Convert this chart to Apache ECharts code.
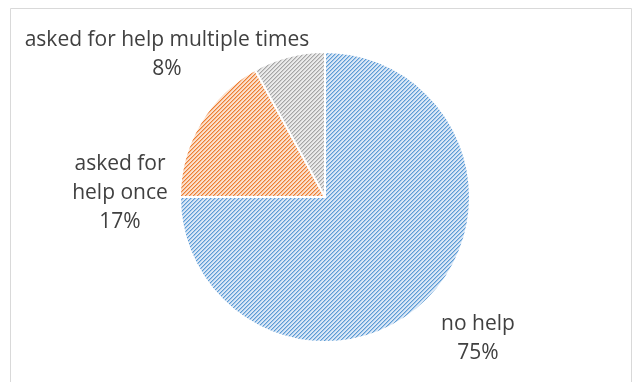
<!DOCTYPE html>
<html>
<head>
<meta charset="utf-8">
<script src="https://cdn.jsdelivr.net/npm/echarts@6/dist/echarts.min.js"></script>
<style>
  html, body { margin: 0; padding: 0; background: #fff; }
  #chart { width: 642px; height: 382px; }
</style>
</head>
<body>
<div id="chart"></div>
<script>
// Share of respondents by how often they asked for help
const categories = ['no help', 'asked for\nhelp once', 'asked for help multiple times'];
const shares = [75, 17, 8];
const baseColors = ['#5b9bd5', '#ed7d31', '#a5a5a5'];
const lightColors = ['#dae7f6', '#fbe0cc', '#ebebeb'];

// Diagonal hatch fill: "/" stripes on a pale tint of the series colour
function hatch(dark, light) {
  const size = 8;
  const c = document.createElement('canvas');
  c.width = size; c.height = size;
  const ctx = c.getContext('2d');
  for (let y = 0; y < size; y++) {
    for (let x = 0; x < size; x++) {
      const k = (x + y) % 4;
      ctx.fillStyle = k <= 1 ? dark : light;
      ctx.globalAlpha = k === 1 ? 0.55 : 1;
      ctx.fillRect(x, y, 1, 1);
      ctx.globalAlpha = 1;
    }
  }
  return { image: c, repeat: 'repeat' };
}

// Centre points of the category labels
const labelSpots = [[478, 339], [120, 193], [167, 55]];

const chart = echarts.init(document.getElementById('chart'), null, { renderer: 'canvas' });
chart.setOption({
  animation: false,
  graphic: [{
    type: 'rect',
    shape: { x: 10.5, y: 8.5, width: 621, height: 400 },
    style: { fill: 'none', stroke: '#d9d9d9', lineWidth: 1 },
    silent: true
  }],
  series: [{
    type: 'pie',
    center: [325, 197],
    radius: 145,
    startAngle: 90,
    clockwise: true,
    data: categories.map((name, i) => ({
      name: name,
      value: shares[i],
      itemStyle: { color: hatch(baseColors[i], lightColors[i]) }
    })),
    itemStyle: { borderColor: '#ffffff', borderWidth: 2 },
    label: {
      show: true,
      position: 'outside',
      formatter: p => p.name + '\n' + p.value + '%',
      fontFamily: 'Open Sans',
      fontSize: 21,
      lineHeight: 29,
      color: '#404040',
      align: 'center',
      overflow: 'none',
      width: 400,
      edgeDistance: 0
    },
    labelLine: { show: false },
    labelLayout: function (params) {
      const s = labelSpots[params.dataIndex];
      return { x: s[0], y: s[1], align: 'center', verticalAlign: 'middle' };
    }
  }]
});
</script>
</body>
</html>
